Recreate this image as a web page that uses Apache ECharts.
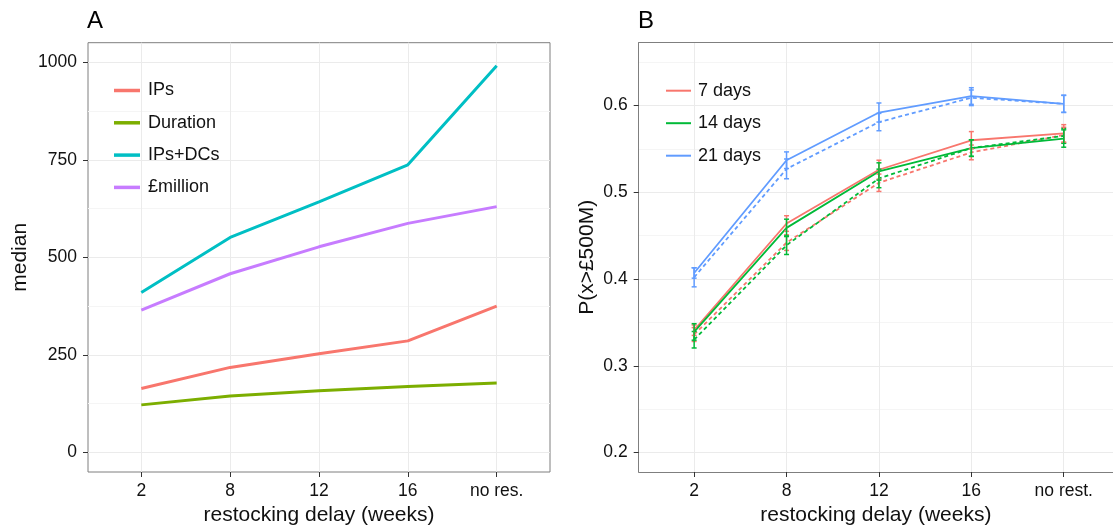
<!DOCTYPE html>
<html><head><meta charset="utf-8">
<script src="https://cdn.jsdelivr.net/npm/echarts@6/dist/echarts.min.js"></script>
<style>html,body{margin:0;padding:0;background:#fff}#c{width:1113px;height:531px}</style>
</head><body><div id="c"></div>
<script>
// ---- data ----
const catsA = ['2', '8', '12', '16', 'no res.'];
const catsB = ['2', '8', '12', '16', 'no rest.'];
const ticksA = [0, 250, 500, 750, 1000];
const ticksB = [0.2, 0.3, 0.4, 0.5, 0.6];
const minorA = [125, 375, 625, 875];
const minorB = [0.25, 0.35, 0.45, 0.55, 0.65];

const ips      = [164, 218, 253, 286, 375];
const duration = [122, 145, 158, 169, 178];
const ipsDcs   = [410, 551, 642, 737, 991];
const million  = [365, 458, 527, 587, 630];

const solid7  = [0.341, 0.464, 0.526, 0.560, 0.568];
const solid14 = [0.339, 0.459, 0.524, 0.551, 0.562];
const solid21 = [0.407, 0.537, 0.592, 0.611, 0.602];
const dash7   = [0.336, 0.442, 0.511, 0.546, 0.566];
const dash14  = [0.330, 0.439, 0.516, 0.551, 0.565];
const dash21  = [0.402, 0.527, 0.581, 0.609, 0.602];
const errSolid7  = [0.006, 0.009, 0.011, 0.010, 0.010];
const errSolid14 = [0.0095, 0.010, 0.010, 0.0096, 0.010];
const errSolid21 = [0.006, 0.0096, 0.011, 0.0096, 0.010];
const errDash7   = [0.008, 0.009, 0.010, 0.0085, 0.009];
const errDash14  = [0.0095, 0.0107, 0.0107, 0.0095, 0.0085];
const errDash21  = [0.011, 0.0114, 0.010, 0.009, 0.0097];

// ---- chart ----
const FONT = "'Liberation Sans', Arial, sans-serif";
const TXT = '#111';
const GRIDC = '#ebebeb';
const MINORC = '#f5f5f5';
const BORDER = '#7f7f7f';
const IDX = [0, 1, 2, 3, 4];

function pts(arr) { return arr.map((v, i) => [i, v]); }
function errPts(arr, err) { return arr.map((v, i) => [i, v - err[i], v + err[i]]); }

function xAxisFor(gi, cats, max, showLine) {
  return {
    type: 'value', gridIndex: gi, min: -0.6, max: max, position: 'bottom',
    axisLine: { show: showLine, onZero: false, lineStyle: { color: BORDER, width: 1 } },
    axisTick: { show: true, length: 5, customValues: IDX, lineStyle: { color: '#333' } },
    axisLabel: { customValues: IDX, margin: 10, fontSize: 17.5, color: TXT, fontFamily: FONT,
      formatter: v => cats[Math.round(v)] },
    splitLine: { show: true, lineStyle: { color: GRIDC, width: 1 } },
    name: 'restocking delay (weeks)', nameLocation: 'middle', nameGap: 33,
    nameTextStyle: { fontSize: 21, color: TXT, fontFamily: FONT }
  };
}
function topAxisFor(gi, max) {
  return {
    type: 'value', gridIndex: gi, min: -0.6, max: max, position: 'top',
    axisLine: { show: true, onZero: false, lineStyle: { color: BORDER, width: 1 } },
    axisTick: { show: false }, axisLabel: { show: false }, splitLine: { show: false }
  };
}
function yAxisFor(gi, min, max, ticks, name, gap, fmt, showLine) {
  return {
    type: 'value', gridIndex: gi, min: min, max: max, position: 'left',
    axisLine: { show: showLine, onZero: false, lineStyle: { color: BORDER, width: 1 } },
    axisTick: { show: true, length: 5, customValues: ticks, lineStyle: { color: '#333' } },
    axisLabel: { customValues: ticks, margin: 11, fontSize: 17.5, color: TXT, fontFamily: FONT, formatter: fmt },
    splitLine: { show: true, lineStyle: { color: GRIDC, width: 1 } },
    name: name, nameLocation: 'middle', nameGap: gap, nameRotate: 90,
    nameTextStyle: { fontSize: 21, color: TXT, fontFamily: FONT }
  };
}
function minorAxisFor(gi, min, max, vals) {
  return {
    type: 'value', gridIndex: gi, min: min, max: max, position: 'left',
    axisLine: { show: false, onZero: false }, axisLabel: { show: false },
    axisTick: { show: false, customValues: vals },
    splitLine: { show: true, lineStyle: { color: MINORC, width: 1 } }
  };
}

function lineA(name, data, color) {
  return { name: name, type: 'line', xAxisIndex: 0, yAxisIndex: 0, data: pts(data),
    showSymbol: false, symbol: 'none', color: color, lineStyle: { width: 3, color: color }, z: 3 };
}
function lineB(name, data, color, dashed) {
  return { name: name, type: 'line', xAxisIndex: 1, yAxisIndex: 1, data: pts(data),
    showSymbol: false, symbol: 'none', color: color,
    lineStyle: { width: 1.8, color: color, type: dashed ? [4, 3] : 'solid' }, z: 3 };
}
function errB(name, data, err, color) {
  return { name: name, type: 'custom', xAxisIndex: 1, yAxisIndex: 1, data: errPts(data, err),
    encode: { x: 0, y: [1, 2] }, z: 4,
    renderItem: function (params, api) {
      const x = api.value(0);
      const top = api.coord([x, api.value(2)]);
      const bot = api.coord([x, api.value(1)]);
      const w = 2.5;
      const st = { stroke: color, lineWidth: 1.5 };
      return { type: 'group', children: [
        { type: 'line', shape: { x1: top[0], y1: top[1], x2: bot[0], y2: bot[1] }, style: st },
        { type: 'line', shape: { x1: top[0] - w, y1: top[1], x2: top[0] + w, y2: top[1] }, style: st },
        { type: 'line', shape: { x1: bot[0] - w, y1: bot[1], x2: bot[0] + w, y2: bot[1] }, style: st }
      ] };
    }
  };
}

const C_IPS = '#F8766D', C_DUR = '#7CAE00', C_DC = '#00BFC4', C_MIL = '#C77CFF';
const C7 = '#F8766D', C14 = '#00BA38', C21 = '#619CFF';

// panel B is cut at the right edge of the picture: 92.4 px per category step
const B_LEFT = 638.7, B_STEP = 92.4, W = 1113;
const B_MAX = -0.6 + (W - B_LEFT) / B_STEP;

const option = {
  animation: false,
  backgroundColor: '#fff',
  textStyle: { fontFamily: FONT },
  title: [
    { text: 'A', left: 87, top: 9, padding: 0, textStyle: { fontSize: 24, fontWeight: 'normal', color: '#000', fontFamily: FONT } },
    { text: 'B', left: 638, top: 9, padding: 0, textStyle: { fontSize: 24, fontWeight: 'normal', color: '#000', fontFamily: FONT } }
  ],
  grid: [
    { left: 88, top: 42.7, width: 462, height: 430.6, show: true, backgroundColor: '#fff', borderColor: BORDER, borderWidth: 1, containLabel: false },
    { left: B_LEFT, top: 42.7, right: 0, height: 430.6, show: true, backgroundColor: '#fff', borderWidth: 0, borderColor: 'transparent', containLabel: false }
  ],
  legend: [
    { data: ['IPs', 'Duration', 'IPs+DCs', '£million'], orient: 'vertical', left: 114, top: 80.5, padding: 0,
      itemWidth: 26, itemHeight: 3.5, itemGap: 12.3, icon: 'rect', selectedMode: false,
      textStyle: { fontSize: 18, lineHeight: 20, color: TXT, fontFamily: FONT, padding: [0, 0, 0, 3] } },
    { data: ['7 days', '14 days', '21 days'], orient: 'vertical', left: 666, top: 80.7, padding: 0,
      itemWidth: 25, itemHeight: 2, itemGap: 12.5, icon: 'rect', selectedMode: false,
      textStyle: { fontSize: 18, lineHeight: 20, color: TXT, fontFamily: FONT, padding: [0, 0, 0, 2] } }
  ],
  xAxis: [xAxisFor(0, catsA, 4.6, false), xAxisFor(1, catsB, B_MAX, true), topAxisFor(1, B_MAX)],
  yAxis: [
    yAxisFor(0, -50, 1050, ticksA, 'median', 57, v => String(v), false),
    yAxisFor(1, 0.1775, 0.6725, ticksB, 'P(x>£500M)', 41, v => v.toFixed(1), true),
    minorAxisFor(0, -50, 1050, minorA),
    minorAxisFor(1, 0.1775, 0.6725, minorB)
  ],
  series: [
    lineA('IPs', ips, C_IPS),
    lineA('Duration', duration, C_DUR),
    lineA('IPs+DCs', ipsDcs, C_DC),
    lineA('£million', million, C_MIL),
    lineB('7 days dashed', dash7, C7, true),
    lineB('14 days dashed', dash14, C14, true),
    lineB('21 days dashed', dash21, C21, true),
    lineB('7 days', solid7, C7, false),
    lineB('14 days', solid14, C14, false),
    lineB('21 days', solid21, C21, false),
    errB('err7d', dash7, errDash7, C7),
    errB('err14d', dash14, errDash14, C14),
    errB('err21d', dash21, errDash21, C21),
    errB('err7', solid7, errSolid7, C7),
    errB('err14', solid14, errSolid14, C14),
    errB('err21', solid21, errSolid21, C21)
  ]
};
const chart = echarts.init(document.getElementById('c'), null, { renderer: 'canvas' });
chart.setOption(option);
</script>
</body></html>
